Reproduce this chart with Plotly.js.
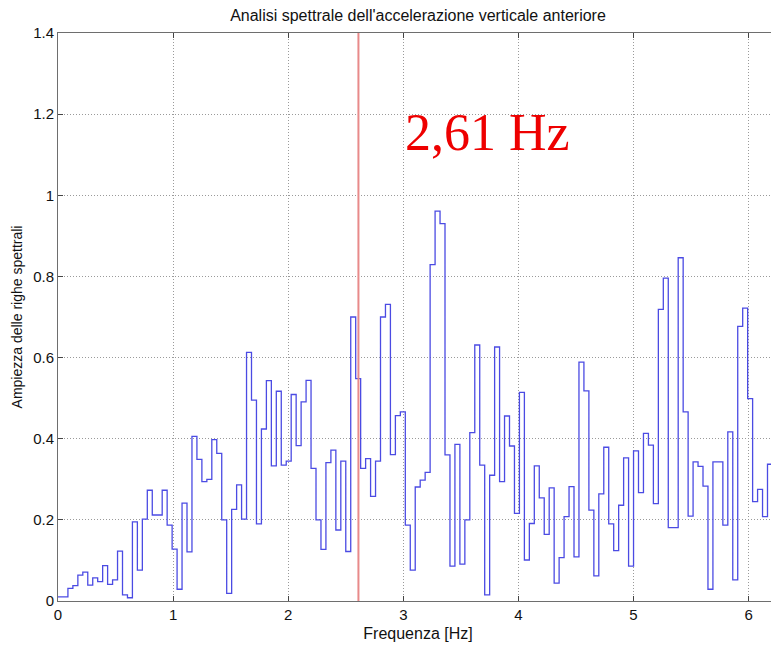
<!DOCTYPE html>
<html>
<head>
<meta charset="utf-8">
<script src="https://cdn.plot.ly/plotly-3.0.1.min.js"></script>
<style>
  html, body { margin: 0; padding: 0; overflow: hidden; background: #fff; }
  #chart { width: 800px; height: 646px; }
</style>
</head>
<body>
<div id="chart"></div>
<script>
// Frequency resolution of the spectrum (Hz per spectral line)
const freqStep = 5 / 116;
// Amplitude of each spectral line, in order from 0 Hz
const amplitudes = [
  0.010, 0.010, 0.031, 0.038, 0.064, 0.071, 0.039, 0.057, 0.048, 0.087,
  0.041, 0.052, 0.123, 0.015, 0.008, 0.195, 0.076, 0.202, 0.273, 0.212,
  0.212, 0.273, 0.187, 0.128, 0.029, 0.241, 0.121, 0.406, 0.349, 0.294,
  0.300, 0.398, 0.364, 0.200, 0.019, 0.226, 0.286, 0.202, 0.613, 0.495,
  0.190, 0.424, 0.543, 0.333, 0.517, 0.335, 0.345, 0.509, 0.383, 0.491,
  0.544, 0.327, 0.200, 0.127, 0.341, 0.372, 0.175, 0.345, 0.122, 0.700,
  0.548, 0.327, 0.351, 0.258, 0.345, 0.700, 0.731, 0.361, 0.457, 0.466,
  0.187, 0.076, 0.281, 0.298, 0.317, 0.829, 0.961, 0.930, 0.360, 0.086,
  0.386, 0.091, 0.200, 0.415, 0.631, 0.335, 0.015, 0.310, 0.626, 0.294,
  0.456, 0.382, 0.216, 0.514, 0.101, 0.191, 0.333, 0.254, 0.164, 0.279,
  0.044, 0.107, 0.208, 0.282, 0.109, 0.589, 0.518, 0.224, 0.062, 0.264,
  0.379, 0.190, 0.124, 0.236, 0.353, 0.086, 0.370, 0.267, 0.413, 0.384,
  0.240, 0.719, 0.796, 0.181, 0.181, 0.846, 0.466, 0.209, 0.343, 0.332,
  0.283, 0.029, 0.343, 0.343, 0.187, 0.417, 0.052, 0.677, 0.722, 0.499,
  0.245, 0.275, 0.208, 0.337
];
const markedFreq = 2.61;
const markedLabel = "2,61 Hz";
const xTicks = [0, 1, 2, 3, 4, 5, 6];
const yTicks = [0, 0.2, 0.4, 0.6, 0.8, 1, 1.2, 1.4];
const titleText = "Analisi spettrale dell'accelerazione verticale anteriore";
const xTitle = "Frequenza [Hz]";
const yTitle = "Ampiezza delle righe spettrali";

// stairs: each line starts at its frequency; close the last step
const xs = amplitudes.map((_, i) => i * freqStep);
const ys = amplitudes.slice();
xs.push(amplitudes.length * freqStep);
ys.push(amplitudes[amplitudes.length - 1]);

const trace = {
  x: xs, y: ys, type: 'scatter', mode: 'lines',
  line: { shape: 'hv', color: '#4b4be3', width: 1.3 },
  hoverinfo: 'skip'
};

const axisCommon = {
  showline: true, linecolor: '#6e6e6e', linewidth: 1,
  mirror: 'ticks', ticks: 'inside', ticklen: 5, tickcolor: '#444',
  showgrid: true, gridcolor: '#9a9a9a', griddash: '1px,2px', gridwidth: 1,
  zeroline: false,
  tickfont: { family: 'Liberation Sans, Arial, sans-serif', size: 15, color: '#111' }
};

const layout = {
  width: 800, height: 646,
  margin: { l: 58, r: 22, t: 33, b: 45 },
  paper_bgcolor: '#fff', plot_bgcolor: '#fff',
  showlegend: false,
  title: {
    text: titleText, x: 418 / 800, xanchor: 'center', y: 0.976, yanchor: 'middle',
    font: { family: 'Liberation Sans, Arial, sans-serif', size: 16, color: '#111' }
  },
  xaxis: Object.assign({}, axisCommon, {
    range: [0, 6.255], tickvals: xTicks,
    title: { text: xTitle, standoff: 5,
      font: { family: 'Liberation Sans, Arial, sans-serif', size: 16, color: '#111' } }
  }),
  yaxis: Object.assign({}, axisCommon, {
    range: [0, 1.4], tickvals: yTicks,
    title: { text: yTitle, standoff: 7,
      font: { family: 'Liberation Sans, Arial, sans-serif', size: 14, color: '#111' } }
  }),
  shapes: [{
    type: 'line', xref: 'x', yref: 'paper',
    x0: markedFreq, x1: markedFreq, y0: 0, y1: 1,
    line: { color: '#e88a8a', width: 2 }, layer: 'above'
  }],
  annotations: [{
    text: markedLabel, xref: 'x', yref: 'y', x: 3.0, y: 1.155,
    xanchor: 'left', yanchor: 'middle', showarrow: false,
    font: { family: 'Liberation Serif, Times New Roman, serif', size: 52, color: '#ee0000' }
  }]
};

Plotly.newPlot('chart', [trace], layout, { staticPlot: true, displayModeBar: false });
</script>
</body>
</html>
